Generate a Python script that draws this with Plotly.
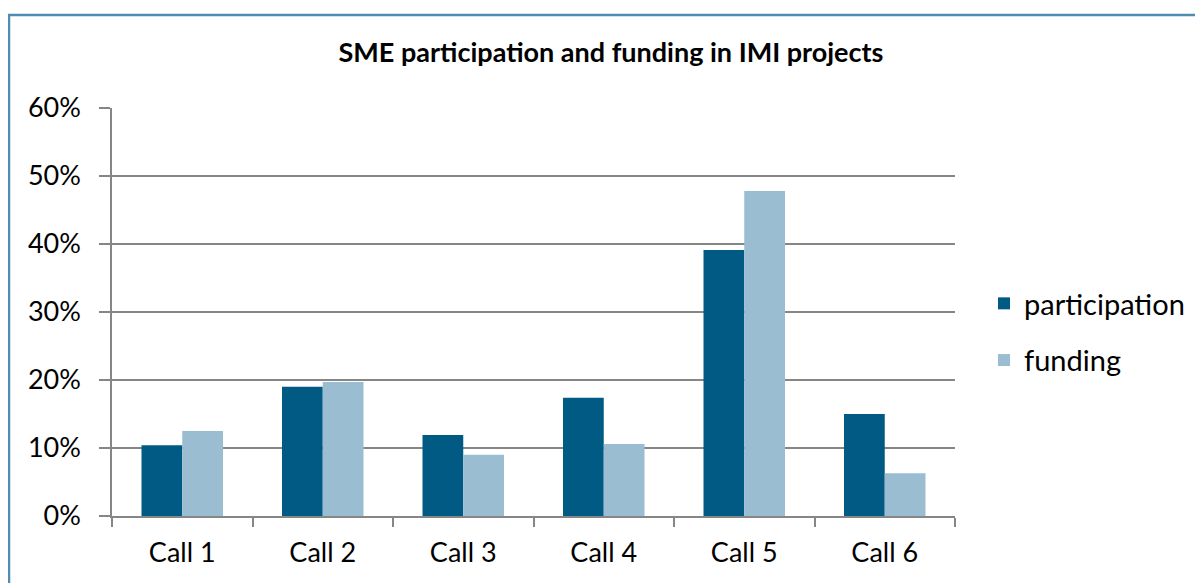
import plotly.graph_objects as go

categories = ["Call 1", "Call 2", "Call 3", "Call 4", "Call 5", "Call 6"]
participation = [0.104, 0.190, 0.119, 0.174, 0.391, 0.150]
funding = [0.125, 0.197, 0.090, 0.106, 0.478, 0.063]
y_ticks = [0, 0.1, 0.2, 0.3, 0.4, 0.5, 0.6]

W, H = 1203, 583
OFF = 8  # page body margin
L, R, T, B = 112 - OFF, 955 - OFF, 108 - OFF, 516 - OFF
FONT = "Lato"

fig = go.Figure()
fig.add_trace(go.Bar(x=categories, y=participation, name="participation",
                     marker=dict(color="#005A84", line=dict(width=0)), legendgroup="a"))
fig.add_trace(go.Bar(x=categories, y=funding, name="funding",
                     marker=dict(color="#9BBDD1", line=dict(width=0)), legendgroup="b"))

pw = R - L
ph = B - T
fig.update_layout(
    width=W, height=H,
    margin=dict(l=L, r=W - R, t=T, b=H - B),
    paper_bgcolor="white", plot_bgcolor="white",
    barmode="group", bargap=0.42, bargroupgap=0,
    font=dict(family=FONT, color="black", size=27),
    title=dict(text="<b>SME participation and funding in IMI projects</b>",
               x=(611 - OFF) / W, xanchor="center", y=1 - (53 - OFF) / H, yanchor="middle",
               font=dict(family=FONT, size=27, color="black")),
    legend=dict(x=(984 - OFF - L) / pw, xanchor="left", y=(B - (278 - OFF)) / ph, yanchor="top",
                font=dict(size=29), traceorder="grouped", tracegroupgap=16,
                bgcolor="rgba(0,0,0,0)"),
    xaxis=dict(showline=True, linecolor="#868686", linewidth=1.5,
               ticks="outside", tickson="boundaries", ticklen=9, tickcolor="#868686",
               tickwidth=1.5, tickfont=dict(size=27), showgrid=False,
               ticklabelstandoff=12),
    yaxis=dict(range=[0, 0.6], tickvals=y_ticks, tickformat=".0%",
               showline=True, linecolor="#868686", linewidth=1.5,
               ticks="outside", ticklen=11, tickcolor="#868686", tickwidth=1.5,
               showgrid=True, gridcolor="#868686", gridwidth=1.5,
               tickfont=dict(size=27), zeroline=False, ticklabelstandoff=13),
    shapes=[dict(type="rect", xref="paper", yref="paper",
                 x0=(9 - OFF - L) / pw, x1=(1260 - OFF - L) / pw,
                 y0=(B - 640) / ph, y1=(B - (15 - OFF)) / ph,
                 line=dict(color="#4F8DB3", width=2.5), fillcolor="rgba(0,0,0,0)",
                 layer="below")],
)

fig.write_html("out.html")
